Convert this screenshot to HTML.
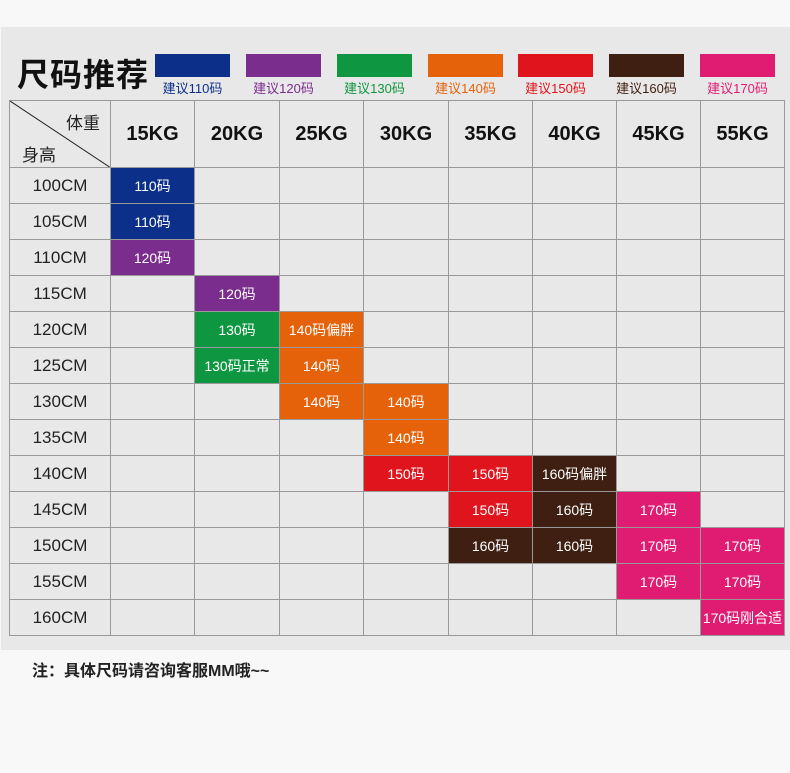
<!DOCTYPE html>
<html><head><meta charset="utf-8"><style>
body{margin:0;width:790px;height:773px;background:#f8f8f8;font-family:"Liberation Sans","Noto Sans CJK SC",sans-serif;position:relative;overflow:hidden}
.panel{position:absolute;left:1px;top:27px;width:789px;height:623px;background:#e8e8e8}
.title{position:absolute;left:17px;top:50px;font-size:32px;font-weight:bold;color:#111;letter-spacing:1px}
.sw{position:absolute;top:54px;width:75px;height:23px}
.lb{position:absolute;top:78px;width:75px;text-align:center;font-size:13px}
table{position:absolute;left:9px;top:100px;border-collapse:collapse;table-layout:fixed;width:775px}
td{border:1px solid #999;height:35px;text-align:center;font-size:14px;color:#fff;padding:0;white-space:nowrap;overflow:hidden}
td.h{height:66px;font-size:20px;font-weight:bold;color:#111}
td.r{font-size:17px;color:#222}
.note{position:absolute;left:32px;top:657px;font-size:16px;font-weight:bold;color:#222}
.B{background:#0c2f8a}.P{background:#7a2d8c}.G{background:#0f9640}.O{background:#e5620a}.R{background:#e0141c}.N{background:#3e1f12}.K{background:#e01b72}
</style></head><body>
<div class="panel"></div>
<div class="title">尺码推荐</div>
<div class="sw B" style="left:155px"></div><div class="lb" style="left:155px;color:#0c2f8a">建议110码</div>
<div class="sw P" style="left:246px"></div><div class="lb" style="left:246px;color:#7a2d8c">建议120码</div>
<div class="sw G" style="left:337px"></div><div class="lb" style="left:337px;color:#0f9640">建议130码</div>
<div class="sw O" style="left:428px"></div><div class="lb" style="left:428px;color:#e5620a">建议140码</div>
<div class="sw R" style="left:518px"></div><div class="lb" style="left:518px;color:#e0141c">建议150码</div>
<div class="sw N" style="left:609px"></div><div class="lb" style="left:609px;color:#3e1f12">建议160码</div>
<div class="sw K" style="left:700px"></div><div class="lb" style="left:700px;color:#e01b72">建议170码</div>
<table>
<colgroup><col style="width:101px"><col style="width:84px"><col style="width:85px"><col style="width:84px"><col style="width:85px"><col style="width:84px"><col style="width:84px"><col style="width:84px"><col style="width:84px"></colgroup>
<tr><td class="h r" style="position:relative;font-weight:normal;font-size:17px"><svg style="position:absolute;left:0;top:0" width="101" height="67"><line x1="0" y1="0" x2="101" y2="67" stroke="#222" stroke-width="1"/></svg><span style="position:absolute;right:10px;top:8px">体重</span><span style="position:absolute;left:12px;top:40px">身高</span></td><td class="h">15KG</td><td class="h">20KG</td><td class="h">25KG</td><td class="h">30KG</td><td class="h">35KG</td><td class="h">40KG</td><td class="h">45KG</td><td class="h">55KG</td></tr>
<tr><td class="r">100CM</td><td class="B">110码</td><td></td><td></td><td></td><td></td><td></td><td></td><td></td></tr>
<tr><td class="r">105CM</td><td class="B">110码</td><td></td><td></td><td></td><td></td><td></td><td></td><td></td></tr>
<tr><td class="r">110CM</td><td class="P">120码</td><td></td><td></td><td></td><td></td><td></td><td></td><td></td></tr>
<tr><td class="r">115CM</td><td></td><td class="P">120码</td><td></td><td></td><td></td><td></td><td></td><td></td></tr>
<tr><td class="r">120CM</td><td></td><td class="G">130码</td><td class="O">140码偏胖</td><td></td><td></td><td></td><td></td><td></td></tr>
<tr><td class="r">125CM</td><td></td><td class="G">130码正常</td><td class="O">140码</td><td></td><td></td><td></td><td></td><td></td></tr>
<tr><td class="r">130CM</td><td></td><td></td><td class="O">140码</td><td class="O">140码</td><td></td><td></td><td></td><td></td></tr>
<tr><td class="r">135CM</td><td></td><td></td><td></td><td class="O">140码</td><td></td><td></td><td></td><td></td></tr>
<tr><td class="r">140CM</td><td></td><td></td><td></td><td class="R">150码</td><td class="R">150码</td><td class="N">160码偏胖</td><td></td><td></td></tr>
<tr><td class="r">145CM</td><td></td><td></td><td></td><td></td><td class="R">150码</td><td class="N">160码</td><td class="K">170码</td><td></td></tr>
<tr><td class="r">150CM</td><td></td><td></td><td></td><td></td><td class="N">160码</td><td class="N">160码</td><td class="K">170码</td><td class="K">170码</td></tr>
<tr><td class="r">155CM</td><td></td><td></td><td></td><td></td><td></td><td></td><td class="K">170码</td><td class="K">170码</td></tr>
<tr><td class="r">160CM</td><td></td><td></td><td></td><td></td><td></td><td></td><td></td><td class="K">170码刚合适</td></tr>
</table>
<div class="note">注：具体尺码请咨询客服MM哦~~</div>
</body></html>
